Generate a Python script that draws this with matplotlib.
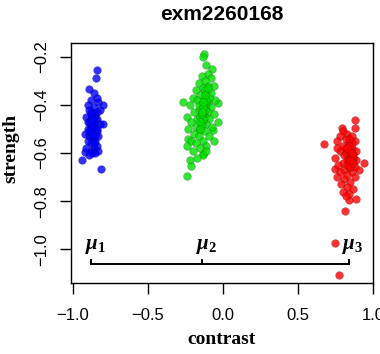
import matplotlib
matplotlib.use("Agg")
import matplotlib.pyplot as plt

plt.rcParams['mathtext.fontset'] = 'custom'
plt.rcParams['mathtext.it'] = 'Liberation Serif:italic:bold'
plt.rcParams['mathtext.rm'] = 'Liberation Serif:bold'
plt.rcParams['mathtext.bf'] = 'Liberation Serif:bold'

title = "exm2260168"
xlabel = "contrast"
ylabel = "strength"
x_ticks = [-1.0, -0.5, 0.0, 0.5, 1.0]
y_ticks = [-0.2, -0.4, -0.6, -0.8, -1.0]

blue_x = [-0.84, -0.845, -0.89, -0.80, -0.796, -0.936, -0.81, -0.918,
          -0.86, -0.84, -0.88, -0.83, -0.90, -0.86, -0.82, -0.88, -0.85, -0.91,
          -0.87, -0.84, -0.89, -0.86, -0.82, -0.88, -0.85, -0.90, -0.87, -0.84,
          -0.92, -0.86, -0.89, -0.83, -0.87, -0.85, -0.90, -0.88, -0.84, -0.86,
          -0.91, -0.88, -0.83, -0.87, -0.85, -0.89, -0.86, -0.88, -0.85, -0.87,
          -0.89, -0.86, -0.84, -0.87, -0.88, -0.86, -0.87, -0.89, -0.85, -0.88,
          -0.87, -0.86, -0.90, -0.84, -0.87]
blue_y = [-0.256, -0.29, -0.336, -0.40, -0.478, -0.63, -0.665, -0.596,
          -0.35, -0.37, -0.38, -0.39, -0.40, -0.41, -0.42, -0.43, -0.44, -0.45,
          -0.45, -0.46, -0.47, -0.47, -0.48, -0.49, -0.49, -0.50, -0.51, -0.51,
          -0.52, -0.52, -0.53, -0.53, -0.54, -0.55, -0.55, -0.56, -0.57, -0.58,
          -0.58, -0.59, -0.59, -0.60, -0.60, -0.61, -0.44, -0.46, -0.53, -0.48,
          -0.42, -0.56, -0.43, -0.47, -0.50, -0.45, -0.49, -0.51, -0.46, -0.44,
          -0.52, -0.48, -0.47, -0.50, -0.46]

green_x = [-0.122, -0.133, -0.113, -0.073, -0.263, -0.029, -0.029, -0.229,
           -0.218, -0.213, -0.236, -0.129, -0.063,
           -0.10, -0.14, -0.08, -0.12, -0.16, -0.10, -0.06, -0.13, -0.18, -0.11,
           -0.08, -0.15, -0.20, -0.12, -0.05, -0.17, -0.10, -0.14, -0.22, -0.08,
           -0.12, -0.16, -0.19, -0.10, -0.06, -0.14, -0.24, -0.12, -0.17, -0.09,
           -0.21, -0.14, -0.11, -0.18, -0.07, -0.15, -0.23, -0.12, -0.19, -0.09,
           -0.16, -0.21, -0.13, -0.06, -0.18, -0.24, -0.11, -0.15, -0.20, -0.13,
           -0.17, -0.11, -0.13, -0.11, -0.15, -0.12, -0.14, -0.09, -0.16, -0.13,
           -0.12, -0.14, -0.13, -0.11, -0.15, -0.12, -0.14, -0.13, -0.10, -0.15]
green_y = [-0.189, -0.203, -0.235, -0.253, -0.388, -0.394, -0.471, -0.54,
           -0.63, -0.655, -0.697, -0.603, -0.505,
           -0.27, -0.28, -0.29, -0.30, -0.31, -0.32, -0.32, -0.33, -0.34, -0.35,
           -0.35, -0.36, -0.37, -0.37, -0.38, -0.38, -0.39, -0.40, -0.40, -0.41,
           -0.41, -0.42, -0.43, -0.43, -0.44, -0.44, -0.45, -0.45, -0.46, -0.46,
           -0.47, -0.47, -0.48, -0.49, -0.49, -0.50, -0.50, -0.51, -0.52, -0.53,
           -0.53, -0.55, -0.55, -0.55, -0.56, -0.57, -0.57, -0.58, -0.59, -0.61,
           -0.62, -0.59, -0.43, -0.39, -0.45, -0.34, -0.48, -0.37, -0.40, -0.46,
           -0.42, -0.44, -0.41, -0.38, -0.47, -0.36, -0.43, -0.39, -0.33, -0.50]

red_x = [0.877, 0.882, 0.677, 0.793, 0.937, 0.749, 0.837, 0.889, 0.811, 0.744, 0.775,
         0.80, 0.83, 0.78, 0.86, 0.82, 0.76, 0.88, 0.84, 0.80, 0.86, 0.82, 0.89,
         0.78, 0.84, 0.87, 0.81, 0.85, 0.75, 0.89, 0.83, 0.86, 0.80, 0.77, 0.88,
         0.84, 0.81, 0.91, 0.86, 0.78, 0.83, 0.88, 0.76, 0.81, 0.85, 0.79, 0.83,
         0.87, 0.80, 0.84, 0.82, 0.85, 0.84, 0.86, 0.83, 0.85, 0.87, 0.82, 0.84,
         0.76, 0.85, 0.86, 0.84, 0.87, 0.85, 0.83, 0.86]
red_y = [-0.464, -0.498, -0.564, -0.498, -0.642, -0.665, -0.797, -0.79, -0.841, -0.972, -1.107,
         -0.51, -0.52, -0.53, -0.53, -0.54, -0.55, -0.55, -0.56, -0.57, -0.58, -0.58, -0.59,
         -0.59, -0.60, -0.61, -0.61, -0.62, -0.62, -0.63, -0.63, -0.64, -0.64, -0.65, -0.66,
         -0.66, -0.67, -0.67, -0.68, -0.68, -0.69, -0.70, -0.70, -0.71, -0.72, -0.73, -0.74,
         -0.75, -0.76, -0.77, -0.78, -0.60, -0.63, -0.56, -0.65, -0.66, -0.62, -0.60, -0.54,
         -0.58, -0.59, -0.61, -0.57, -0.64, -0.63, -0.58, -0.60]

mu_x = [-0.878, -0.136, 0.837]
mu_labels = [r'$\mu_1$', r'$\mu_2$', r'$\mu_3$']

fig = plt.figure(figsize=(3.8, 3.54), dpi=100)
ax = fig.add_axes([71/380, 1-283/354, 302/380, 240/354])

for xs, ys, c in [(blue_x, blue_y, (0, 0, 1)), (green_x, green_y, (0, 0.87, 0)),
                  (red_x, red_y, (1, 0, 0))]:
    ax.scatter(xs, ys, s=32, facecolors=[c + (0.8,)], edgecolors=[(0, 0, 0, 0.22)],
               linewidths=0.5, zorder=3)

# bracket
ybar = -1.061
ax.plot([mu_x[0], mu_x[-1]], [ybar, ybar], color='black', lw=1.4, zorder=2)
for m in mu_x:
    ax.plot([m, m], [ybar, -1.045], color='black', lw=1.4, zorder=2)
for m, lab in zip(mu_x, mu_labels):
    ax.text(m - 0.04, -0.985, lab, ha='left', va='center', fontsize=15, color='black')

ax.set_xlim(-1.01, 1.0)
ax.set_ylim(-1.14, -0.143)
ax.set_xticks(x_ticks)
ax.set_xticklabels([f"{v:.1f}".replace('-', '\u2212') for v in x_ticks],
                   fontfamily='Liberation Sans', fontsize=12)
ax.set_yticks(y_ticks)
ax.set_yticklabels([f"{v:.1f}".replace('-', '\u2212') for v in y_ticks],
                   fontfamily='Liberation Sans', fontsize=12, rotation=90, va='center')
ax.tick_params(axis='x', length=8, width=1, pad=10)
ax.tick_params(axis='y', length=8, width=1, pad=8)
for s in ax.spines.values():
    s.set_linewidth(1)

ax.set_xlabel(xlabel, fontfamily='Liberation Serif', fontweight='bold', fontsize=14)
ax.xaxis.set_label_coords(0.5, -0.2)
ax.set_ylabel(ylabel, fontfamily='Liberation Serif', fontweight='bold', fontsize=14)
ax.yaxis.set_label_coords(-0.17, 0.56)
fig.text(0.583, 1 - 15/354, title, ha='center', va='center', fontfamily='Liberation Sans',
         fontweight='bold', fontsize=15)

fig.savefig("out.png", dpi=100)
